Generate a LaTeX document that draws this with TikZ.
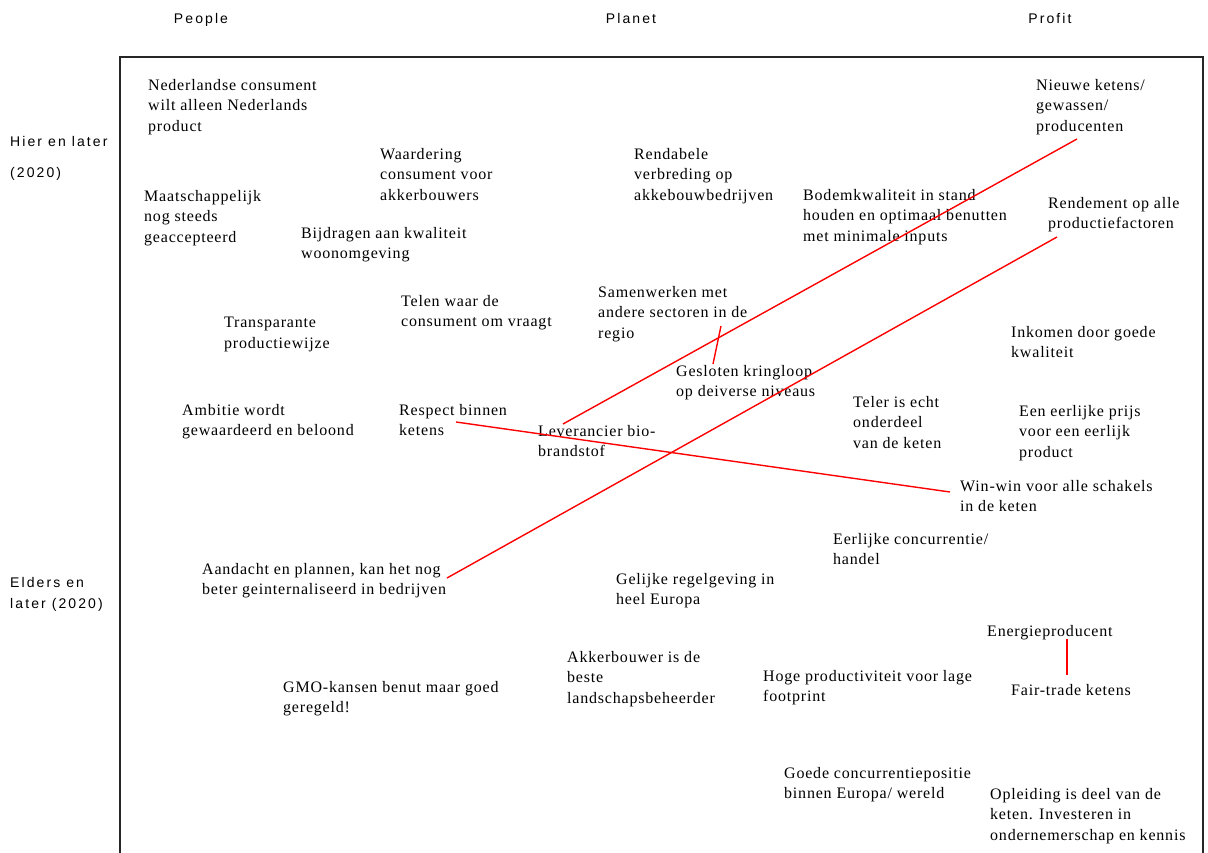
\documentclass[tikz,border=0pt]{standalone}
\usepackage{fontspec}
\usetikzlibrary{calc}
\newfontfamily\tnr[LetterSpace=5]{Liberation Serif}
\newfontfamily\ars[LetterSpace=15]{Liberation Sans}
\tikzset{
  tx/.style={anchor=north west, inner sep=0pt, align=left, yshift=-3pt,
    font=\tnr\fontsize{16}{20.5}\selectfont, execute at begin node=\strut},
  lab/.style={anchor=north west, inner sep=0pt, align=left, yshift=-1pt,
    font=\ars\fontsize{14}{21}\selectfont, execute at begin node=\strut},
  frame/.style={draw=black!85, line width=1.5pt},
  redline/.style={draw=red, line width=1.4pt}
}
\begin{document}
\begin{tikzpicture}[x=1pt,y=-1pt]
\useasboundingbox (0,0) rectangle (1208,853);
% frame
\draw[frame] (120,853) -- (120,57) -- (1203,57) -- (1203,853);
% column / row labels
\node[lab, anchor=north] (people) at (201,8) {People};
\node[lab, anchor=north] (planet) at (631,8) {Planet};
\node[lab, anchor=north] (profit) at (1050,8) {Profit};
\node[lab] (hier) at (10,135) {Hier en later\\[10pt](2020)};
\node[lab] (elders) at (10,576) {Elders en\\later (2020)};
% texts
\node[tx] (nl) at (148,76) {Nederlandse consument\\wilt alleen Nederlands\\product};
\node[tx] (waard) at (380,145) {Waardering\\consument voor\\akkerbouwers};
\node[tx] (rend) at (634,145) {Rendabele\\verbreding op\\akkebouwbedrijven};
\node[tx] (nieuwe) at (1036,76) {Nieuwe ketens/\\gewassen/\\producenten};
\node[tx] (maat) at (144,187) {Maatschappelijk\\nog steeds\\geaccepteerd};
\node[tx] (bodem) at (803,186) {Bodemkwaliteit in stand\\houden en optimaal benutten\\met minimale inputs};
\node[tx] (rendement) at (1048,194) {Rendement op alle\\productiefactoren};
\node[tx] (bijdr) at (301,224) {Bijdragen aan kwaliteit\\woonomgeving};
\node[tx] (telen) at (401,292) {Telen waar de\\consument om vraagt};
\node[tx] (samen) at (598,283) {Samenwerken met\\andere sectoren in de\\regio};
\node[tx] (transp) at (224,314) {Transparante\\productiewijze};
\node[tx] (inkomen) at (1011,323) {Inkomen door goede\\kwaliteit};
\node[tx] (gesl) at (676,362) {Gesloten kringloop\\op deiverse niveaus};
\node[tx] (ambitie) at (182,401) {Ambitie wordt\\gewaardeerd en beloond};
\node[tx] (respect) at (399,401) {Respect binnen\\ketens};
\node[tx] (lev) at (538,422) {Leverancier bio-\\brandstof};
\node[tx] (teler) at (853,393) {Teler is echt\\onderdeel\\van de keten};
\node[tx] (eerlijk) at (1019,402) {Een eerlijke prijs\\voor een eerlijk\\product};
\node[tx] (winwin) at (960,477) {Win-win voor alle schakels\\in de keten};
\node[tx] (conc) at (833,530) {Eerlijke concurrentie/\\handel};
\node[tx] (aandacht) at (202,560) {Aandacht en plannen, kan het nog\\beter geinternaliseerd in bedrijven};
\node[tx] (gelijk) at (616,570) {Gelijke regelgeving in\\heel Europa};
\node[tx] (energie) at (987,619) {Energieproducent};
\node[tx] (akker) at (567,648) {Akkerbouwer is de\\beste\\landschapsbeheerder};
\node[tx] (hoge) at (763,667) {Hoge productiviteit voor lage\\footprint};
\node[tx] (gmo) at (283,678) {GMO-kansen benut maar goed\\geregeld!};
\node[tx] (fair) at (1011,678) {Fair-trade ketens};
\node[tx] (goede) at (784,764) {Goede concurrentiepositie\\binnen Europa/ wereld};
\node[tx] (opleiding) at (990,785) {Opleiding is deel van de\\keten. Investeren in\\ondernemerschap en kennis};
% connector ends
\coordinate (c1a) at (1077,139);
\coordinate (c1b) at (563,424);
\coordinate (c2a) at (1057,237);
\coordinate (c2b) at (447,578);
\coordinate (c3a) at (456,422);
\coordinate (c3b) at (950,492);
\coordinate (c4a) at (721,326);
\coordinate (c4b) at (713,364);
\coordinate (c5a) at (1067,639);
\coordinate (c5b) at (1067,675);
\draw[redline] (c1a) -- (c1b);
\draw[redline] (c2a) -- (c2b);
\draw[redline] (c3a) -- (c3b);
\draw[redline] (c4a) -- (c4b);
\draw[redline] (c5a) -- (c5b);
\end{tikzpicture}
\end{document}
